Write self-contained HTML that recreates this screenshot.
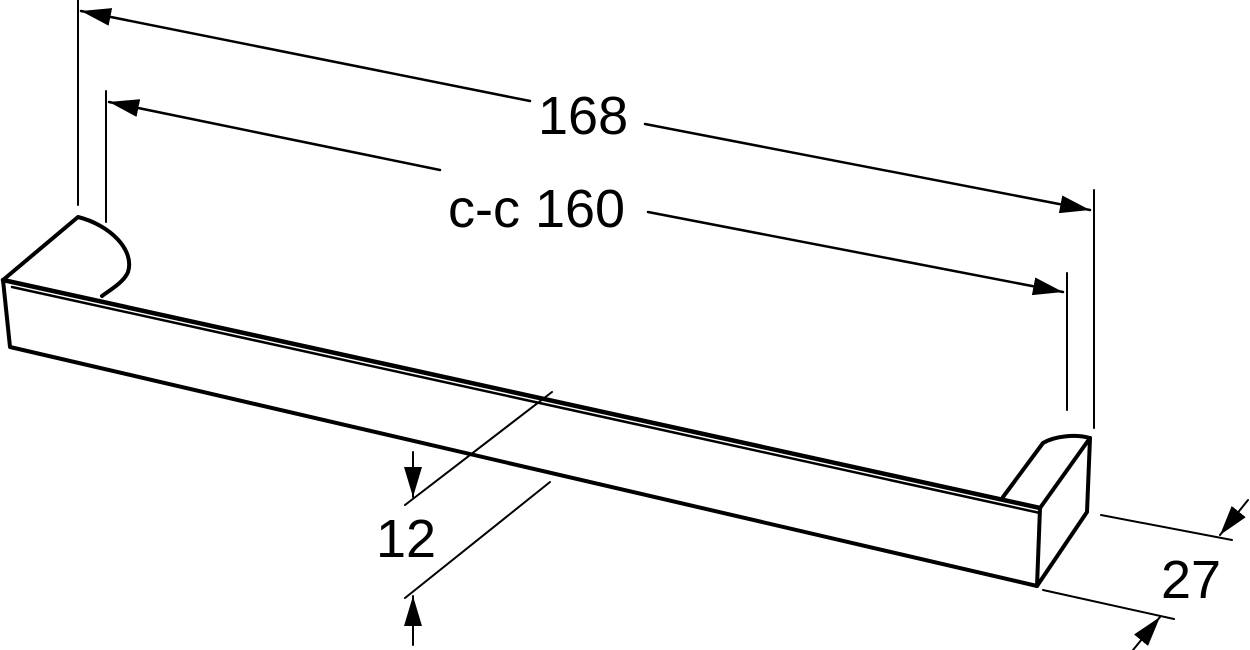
<!DOCTYPE html>
<html><head><style>html,body{margin:0;padding:0;background:#fff;}svg{display:block}
text{font-family:"Liberation Sans",Arial,sans-serif;font-size:54px;fill:#000}</style></head>
<body>
<svg width="1250" height="650" viewBox="0 0 1250 650" xmlns="http://www.w3.org/2000/svg">
<defs>
<marker id="a" viewBox="0 0 30 18" refX="30" refY="9" markerWidth="30" markerHeight="18" markerUnits="userSpaceOnUse" orient="auto"><path d="M0,0 L30,9 L0,18 z" fill="#000"/></marker>
</defs>
<g stroke="#000" fill="none" stroke-linecap="round" stroke-linejoin="round">
<line x1="78" y1="0" x2="78" y2="205" stroke-width="2"/>
<line x1="106" y1="91" x2="106" y2="222" stroke-width="2"/>
<line x1="1094" y1="190" x2="1094" y2="428" stroke-width="2"/>
<line x1="1067" y1="273" x2="1067" y2="410" stroke-width="2"/>
<line x1="530" y1="101" x2="81" y2="11" stroke-width="2.5" marker-end="url(#a)"/>
<line x1="645" y1="124" x2="1090" y2="210" stroke-width="2.5" marker-end="url(#a)"/>
<line x1="440" y1="170" x2="109" y2="102" stroke-width="2.5" marker-end="url(#a)"/>
<line x1="648" y1="212" x2="1063" y2="292" stroke-width="2.5" marker-end="url(#a)"/>
<path d="M3,280 L10,347 L1037,586" stroke-width="4"/>
<path d="M3,280 L1040,508" stroke-width="4.5"/>
<path d="M12,287 L1040,513" stroke-width="2.5"/>
<path d="M3,280 L78,217 C110,225 135,250 128,272 C124,282 110,290 102,296" stroke-width="4"/>
<path d="M1040,508 L1037,586 L1087,512 L1090,438 L1040,508" stroke-width="4"/>
<path d="M1003,497 L1043,443 C1055,436 1075,434 1090,438" stroke-width="4"/>
<line x1="405" y1="505" x2="552" y2="392" stroke-width="2"/>
<line x1="405" y1="598" x2="550" y2="482" stroke-width="2"/>
<line x1="413" y1="452" x2="413" y2="497" stroke-width="2" marker-end="url(#a)"/>
<line x1="413" y1="645" x2="413" y2="596" stroke-width="2" marker-end="url(#a)"/>
<line x1="1101" y1="515" x2="1232" y2="540" stroke-width="2"/>
<line x1="1043" y1="590" x2="1174" y2="619" stroke-width="2"/>
<line x1="1248" y1="500" x2="1220" y2="535" stroke-width="2" marker-end="url(#a)"/>
<line x1="1133" y1="650" x2="1160" y2="617" stroke-width="2" marker-end="url(#a)"/>
</g>
<text x="538" y="134">168</text>
<text x="448" y="227">c-c 160</text>
<text x="376" y="557">12</text>
<text x="1161" y="598">27</text>
</svg>
</body></html>
